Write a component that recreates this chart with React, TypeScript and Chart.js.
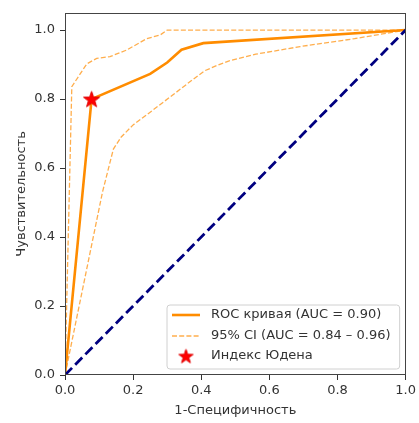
import { useEffect, useRef } from 'react';
import { Chart, registerables } from 'chart.js';

Chart.register(...registerables);

// ---- data ----
const rocFpr = [0, 0.078, 0.25, 0.3, 0.342, 0.406, 1];
const rocTpr = [0, 0.8, 0.873, 0.906, 0.943, 0.962, 1];

const ciUpperFpr = [0, 0.02, 0.064, 0.093, 0.132, 0.181, 0.24, 0.28, 0.3, 1];
const ciUpperTpr = [0, 0.836, 0.902, 0.918, 0.923, 0.942, 0.975, 0.986, 1.0, 1.0];

const ciLowerFpr = [0, 0.11, 0.142, 0.165, 0.2, 0.25, 0.31, 0.36, 0.41, 0.45, 0.48, 0.56, 0.69, 0.85, 1];
const ciLowerTpr = [0, 0.53, 0.655, 0.69, 0.725, 0.762, 0.807, 0.845, 0.882, 0.899, 0.91, 0.93, 0.952, 0.975, 1];

const chanceLine = [0, 1];

const youdenFpr = [0.078];
const youdenTpr = [0.8];

const xTicks = [0, 0.2, 0.4, 0.6, 0.8, 1.0];
const yTicks = [0, 0.2, 0.4, 0.6, 0.8, 1.0];

const legendLabels = ['ROC кривая (AUC = 0.90)', '95% CI (AUC = 0.84 – 0.96)', 'Индекс Юдена'];
const xTitle = '1-Специфичность';
const yTitle = 'Чувствительность';

const zip = (xs: number[], ys: number[]) => xs.map((x, i) => ({ x, y: ys[i] }));

function drawStarPath(ctx: CanvasRenderingContext2D, cx: number, cy: number, R: number, r: number) {
  ctx.beginPath();
  for (let i = 0; i < 10; i++) {
    const rad = i % 2 === 0 ? R : r;
    const a = -Math.PI / 2 + (i * Math.PI) / 5;
    const px = cx + rad * Math.cos(a);
    const py = cy + rad * Math.sin(a);
    if (i === 0) ctx.moveTo(px, py);
    else ctx.lineTo(px, py);
  }
  ctx.closePath();
}

function makeStar(R: number): HTMLCanvasElement {
  const c = document.createElement('canvas');
  const s = Math.ceil(R * 2 + 2);
  c.width = s;
  c.height = s;
  const ctx = c.getContext('2d')!;
  drawStarPath(ctx, s / 2, s / 2 + 0.8, R, R * 0.4);
  ctx.fillStyle = '#ff0000';
  ctx.fill();
  ctx.strokeStyle = '#e00000';
  ctx.lineWidth = 1;
  ctx.stroke();
  return c;
}

const ORANGE = '#ff8c00';
const ORANGE_LIGHT = 'rgba(255,140,0,0.7)';
const FONT = '"DejaVu Sans"';
const TEXT = '#333';

export default function App() {
  const ref = useRef<HTMLCanvasElement | null>(null);

  useEffect(() => {
    document.body.style.margin = '0';
    const canvas = ref.current;
    if (!canvas) return;
    const starImg = makeStar(8.5);
    const legendStar = makeStar(7.5);

    const framePlugin = {
      id: 'frame',
      afterDatasetsDraw(chart: any) {
        const { ctx, chartArea: a } = chart;
        ctx.save();
        ctx.strokeStyle = '#444';
        ctx.lineWidth = 1;
        ctx.strokeRect(Math.round(a.left) + 0.5, Math.round(a.top) + 0.5, Math.round(a.right - a.left) - 1, Math.round(a.bottom - a.top) - 1);
        ctx.restore();
      },
    };

    const legendPlugin = {
      id: 'customLegend',
      afterDraw(chart: any) {
        const { ctx, chartArea: a } = chart;
        const ds = chart.data.datasets;
        const bx = 167, by = 305, bw = a.right - 6 - bx, bh = 64;
        ctx.save();
        ctx.beginPath();
        const r = 3;
        ctx.moveTo(bx + r, by);
        ctx.arcTo(bx + bw, by, bx + bw, by + bh, r);
        ctx.arcTo(bx + bw, by + bh, bx, by + bh, r);
        ctx.arcTo(bx, by + bh, bx, by, r);
        ctx.arcTo(bx, by, bx + bw, by, r);
        ctx.closePath();
        ctx.fillStyle = 'rgba(255,255,255,0.85)';
        ctx.fill();
        ctx.strokeStyle = '#d0d0d0';
        ctx.lineWidth = 1;
        ctx.stroke();

        const rows = [315, 335.5, 356];
        const hx0 = 172, hx1 = 200, tx = 211;
        // ROC line
        ctx.setLineDash([]);
        ctx.strokeStyle = ds[2].borderColor;
        ctx.lineWidth = ds[2].borderWidth;
        ctx.beginPath();
        ctx.moveTo(hx0, rows[0]);
        ctx.lineTo(hx1, rows[0]);
        ctx.stroke();
        // CI line
        ctx.setLineDash(ds[3].borderDash);
        ctx.strokeStyle = ds[3].borderColor;
        ctx.lineWidth = ds[3].borderWidth;
        ctx.beginPath();
        ctx.moveTo(hx0, rows[1] + 0.5);
        ctx.lineTo(hx1, rows[1] + 0.5);
        ctx.stroke();
        ctx.setLineDash([]);
        // star
        ctx.drawImage(legendStar, (hx0 + hx1) / 2 - legendStar.width / 2, rows[2] - legendStar.height / 2);

        ctx.fillStyle = TEXT;
        ctx.font = `13px ${FONT}`;
        ctx.textBaseline = 'middle';
        ctx.textAlign = 'left';
        legendLabels.forEach((t, i) => ctx.fillText(t, tx, rows[i]));
        ctx.restore();
      },
    };

    const chart = new Chart(canvas, {
      type: 'scatter',
      data: {
        datasets: [
          {
            label: legendLabels[2],
            data: zip(youdenFpr, youdenTpr),
            pointStyle: starImg as any,
            pointRadius: 9,
            showLine: false,
          },
          {
            label: 'chance',
            data: zip(chanceLine, chanceLine),
            borderColor: '#000080',
            borderWidth: 2.8,
            borderDash: [10, 4.5],
            pointRadius: 0,
            showLine: true,
            fill: false,
          },
          {
            label: legendLabels[0],
            data: zip(rocFpr, rocTpr),
            borderColor: ORANGE,
            borderWidth: 2.6,
            pointRadius: 0,
            showLine: true,
            fill: false,
          },
          {
            label: legendLabels[1],
            data: zip(ciUpperFpr, ciUpperTpr),
            borderColor: ORANGE_LIGHT,
            borderWidth: 1.3,
            borderDash: [5, 2.2],
            pointRadius: 0,
            showLine: true,
            fill: false,
          },
          {
            label: legendLabels[1],
            data: zip(ciLowerFpr, ciLowerTpr),
            borderColor: ORANGE_LIGHT,
            borderWidth: 1.3,
            borderDash: [5, 2.2],
            pointRadius: 0,
            showLine: true,
            fill: false,
          },
        ] as any,
      },
      options: {
        animation: false,
        responsive: true,
        maintainAspectRatio: false,
        layout: { padding: { top: 12, right: 13, left: 0, bottom: 0 } },
        font: { family: FONT } as any,
        plugins: {
          legend: { display: false },
          tooltip: { enabled: false },
        },
        scales: {
          x: {
            type: 'linear',
            min: 0,
            max: 1,
            afterBuildTicks: (s: any) => {
              s.ticks = xTicks.map((v) => ({ value: v }));
            },
            afterFit: (s: any) => {
              s.height = 48;
            },
            ticks: {
              callback: (v: any) => Number(v).toFixed(1),
              color: TEXT,
              font: { size: 13, family: FONT },
              padding: 3,
              maxRotation: 0,
              autoSkip: false,
            },
            grid: { drawOnChartArea: false, tickLength: 5, tickColor: '#333' },
            border: { display: false },
            title: {
              display: true,
              text: xTitle,
              color: TEXT,
              font: { size: 13, family: FONT },
              padding: { top: 0, bottom: 5 },
            },
          },
          y: {
            type: 'linear',
            min: 0,
            max: 1.05,
            afterBuildTicks: (s: any) => {
              s.ticks = yTicks.map((v) => ({ value: v }));
            },
            afterFit: (s: any) => {
              s.width = 65;
            },
            ticks: {
              callback: (v: any) => Number(v).toFixed(1),
              color: TEXT,
              font: { size: 13, family: FONT },
              padding: 5,
              autoSkip: false,
            },
            grid: { drawOnChartArea: false, tickLength: 5, tickColor: '#333' },
            border: { display: false },
            title: {
              display: true,
              text: yTitle,
              color: TEXT,
              font: { size: 13, family: FONT },
              padding: { top: 14, bottom: 0 },
            },
          },
        },
      },
      plugins: [framePlugin, legendPlugin],
    });

    return () => chart.destroy();
  }, []);

  return (
    <div style={{ width: 419, height: 423, position: 'relative' }}>
      <canvas ref={ref} />
    </div>
  );
}
